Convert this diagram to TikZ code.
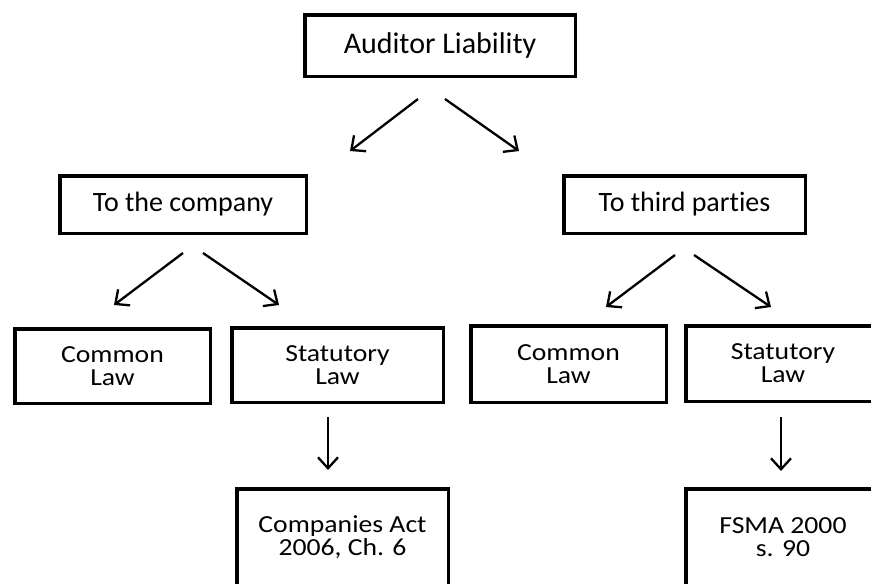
\documentclass[tikz,border=0pt]{standalone}
\usepackage{fontspec}
\setmainfont{Carlito}[Ligatures=NoCommon]
\newfontfamily\lawfont{Carlito}[FakeStretch=1.13,Ligatures=NoCommon]
\usepackage{tikz}
\usetikzlibrary{arrows.meta}

\begin{document}
\begin{tikzpicture}
	[x=1pt,y=1pt,->,>={Straight Barb[length=11pt,width=20pt]},line width=2.3pt,
		base node/.style={rectangle,draw,line width=3.5pt,align=center,inner sep=0pt,font=\fontsize{28}{25}\selectfont},
		top node/.style={base node,font=\fontsize{30}{25}\selectfont},
		law node/.style={base node,font=\lawfont\fontsize{24.5}{23}\selectfont}]

	\useasboundingbox (0,0) rectangle (871,-584);

	\node[top node,minimum width=270.5pt,minimum height=61.5pt]   (A) at (440,-45.5)    {Auditor Liability};
	\node[base node,minimum width=246.5pt,minimum height=57.5pt]  (B) at (183,-204.5)   {To the company};
	\node[base node,minimum width=241.5pt,minimum height=57.5pt]  (C) at (684.5,-204.5) {To third parties};
	\node[law node,minimum width=195.5pt,minimum height=74.5pt]   (D) at (112.5,-366)   {Common\\Law};
	\node[law node,minimum width=211.5pt,minimum height=74.5pt]   (E) at (337.5,-365)   {Statutory\\Law};
	\node[law node,minimum width=195.5pt,minimum height=76.5pt]   (F) at (568.5,-364)   {Common\\Law};
	\node[law node,minimum width=194.5pt,minimum height=75.5pt]   (G) at (783,-363.5)   {Statutory\\Law};
	\node[law node,minimum width=211.5pt,minimum height=97.5pt]   (H) at (342.5,-537.5) {Companies Act\\2006, Ch. 6};
	\node[law node,minimum width=194.5pt,minimum height=97.5pt]   (I) at (783,-537.5)   {FSMA 2000\\s. 90};

	\draw ([shift={(-22,-21)}]A.south) -- ([shift={(167,23)}]B.north);
	\draw ([shift={(5,-21)}]A.south)   -- ([shift={(-165.5,23)}]C.north);

	\draw ([shift={(0,-18)}]B.south)  -- ([shift={(1.5,22)}]D.north);
	\draw ([shift={(20,-18)}]B.south) -- ([shift={(-58.5,21)}]E.north);

	\draw ([shift={(-9.5,-20)}]C.south) -- ([shift={(37.5,17)}]F.north);
	\draw ([shift={(9.5,-20)}]C.south)  -- ([shift={(-12,17)}]G.north);

	\draw ([shift={(-9.5,-13)}]E.south) -- ([shift={(-14.5,17)}]H.north);
	\draw ([shift={(-2,-14)}]G.south)   -- ([shift={(-2,16)}]I.north);

\end{tikzpicture}
\end{document}
